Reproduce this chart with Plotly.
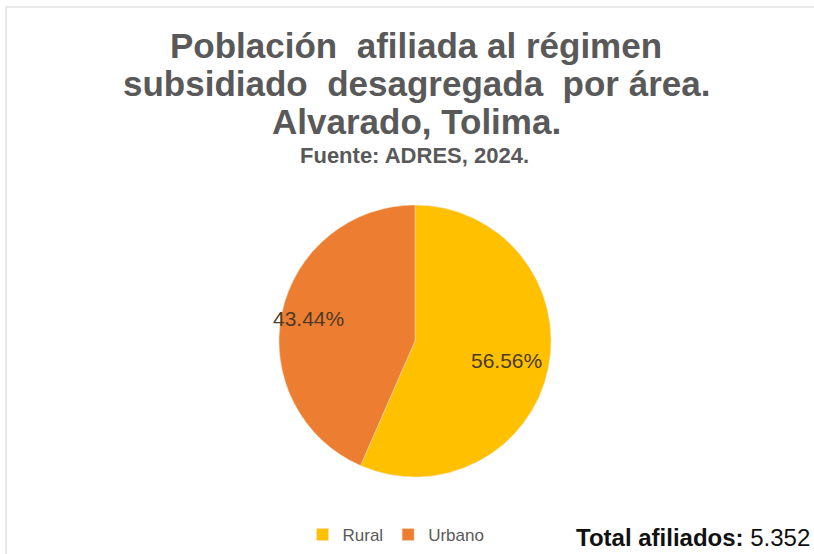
import math
import plotly.graph_objects as go

categories = ["Rural", "Urbano"]
values = [56.56, 43.44]
colors = ["#FFC000", "#ED7D31"]
total_label = "5.352"
title_lines = ["Población  afiliada al régimen",
               "subsidiado  desagregada  por área.",
               "Alvarado, Tolima."]
subtitle = "Fuente: ADRES, 2024."

W, H = 814, 554
FONT = "Liberation Sans, Arial"

# pie geometry (pixels)
cx, cy, r = 415, 341, 136
label_frac = [0.69, 0.80]

fig = go.Figure()
fig.add_trace(go.Pie(
    labels=categories,
    values=values,
    sort=False,
    direction="clockwise",
    rotation=0,
    marker=dict(colors=colors, line=dict(color="#F0E0C0", width=0.5)),
    textinfo="none",
    domain=dict(x=[(cx - r) / W, (cx + r) / W], y=[1 - (cy + r) / H, 1 - (cy - r) / H]),
    hoverinfo="label+percent",
))

# data labels placed along each slice's mid angle
total = sum(values)
start = 0.0
for v, f in zip(values, label_frac):
    mid = start + v / total * 360 / 2
    start += v / total * 360
    th = math.radians(mid)
    px = cx + r * f * math.sin(th)
    py = cy - r * f * math.cos(th)
    fig.add_annotation(
        text=f"{v:.2f}%", x=px / W, y=1 - py / H, xref="paper", yref="paper",
        xanchor="center", yanchor="middle", showarrow=False,
        font=dict(family=FONT, size=21, color="#4D3B26"),
    )

for i, (line, yc) in enumerate(zip(title_lines, [45, 83, 121])):
    fig.add_annotation(
        text=f"<b>{line}</b>", x=416 / W, y=1 - yc / H, xref="paper", yref="paper",
        xanchor="center", yanchor="middle", showarrow=False,
        font=dict(family=FONT, size=35, color="#595959"),
    )
fig.add_annotation(
    text=f"<b>{subtitle}</b>", x=414 / W, y=1 - 155 / H, xref="paper", yref="paper",
    xanchor="center", yanchor="middle", showarrow=False,
    font=dict(family=FONT, size=22, color="#595959"),
)
fig.add_annotation(
    text="<b>Total afiliados:</b> " + total_label,
    x=812 / W, y=1 - 537 / H, xref="paper", yref="paper", xanchor="right", yanchor="middle",
    showarrow=False,
    font=dict(family=FONT, size=24, color="#111111"),
)

fig.update_layout(
    width=W, height=H,
    margin=dict(l=0, r=0, t=0, b=0, autoexpand=False),
    paper_bgcolor="white", plot_bgcolor="white",
    showlegend=True,
    legend=dict(
        orientation="h", x=396 / W, y=1 - 535 / H, xanchor="center", yanchor="middle",
        font=dict(family=FONT, size=17, color="#595959"),
        itemwidth=30, tracegroupgap=0,
    ),
    shapes=[dict(type="rect", xref="paper", yref="paper",
                 x0=6 / W, x1=1.05, y0=-0.05, y1=1 - 7 / H,
                 line=dict(color="#E2E2E2", width=1.5), layer="below")],
)

fig.write_html("out.html", config={"displayModeBar": False},
               post_script="document.body.style.margin='0';document.body.style.overflow='hidden';")
